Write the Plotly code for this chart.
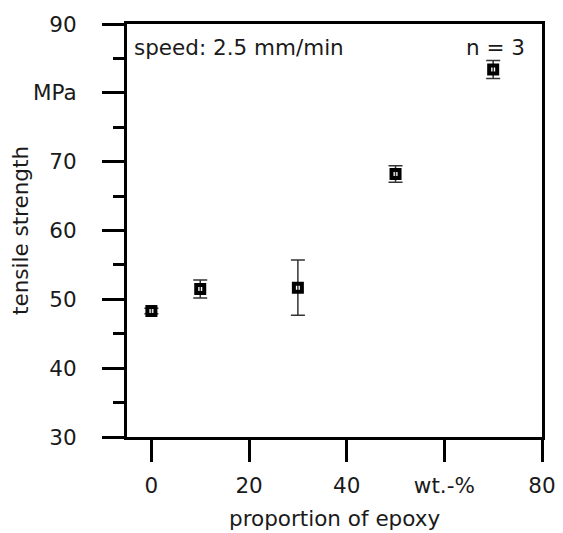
import plotly.graph_objects as go

epoxy = [0, 10, 30, 50, 70]
strength = [48.3, 51.5, 51.7, 68.2, 83.4]
err = [0.4, 1.3, 4.0, 1.2, 1.3]

x_tickvals = [0, 20, 40, 60, 80]
x_ticktext = ["0", "20", "40", "wt.-%", "80"]
y_tickvals = [30, 40, 50, 60, 70, 80, 90]
y_ticktext = ["30", "40", "50", "60", "70", "MPa", "90"]

font = "DejaVu Sans"
fsize = 21.5
tcolor = "#1a1a1a"
fig = go.Figure()
fig.add_trace(go.Scatter(
    x=epoxy, y=strength, mode="markers",
    marker=dict(symbol="square-open", size=8, color="black", line=dict(width=4, color="black")),
    error_y=dict(type="data", array=err, visible=True, color="#333333", thickness=1.5, width=7),
    showlegend=False,
))

axis_common = dict(
    showline=True, linewidth=3, linecolor="black", mirror=True,
    ticks="outside", ticklen=22, tickwidth=3, tickcolor="black",
    showgrid=False, zeroline=False, automargin=False,
    tickfont=dict(family=font, size=fsize, color=tcolor),
)
fig.update_xaxes(
    range=[-5, 80], tickmode="array", tickvals=x_tickvals, ticktext=x_ticktext,
    ticklabelstandoff=5,
    **axis_common,
)
fig.update_yaxes(
    range=[30, 90], tickmode="array", tickvals=y_tickvals, ticktext=y_ticktext,
    title=dict(text="tensile strength", font=dict(family=font, size=fsize, color=tcolor), standoff=10),
    minor=dict(ticks="outside", ticklen=11, tickwidth=3, tickcolor="black", dtick=5, tick0=35, showgrid=False),
    ticklabelstandoff=21,
    **axis_common,
)
fig.add_annotation(x=0.5, y=0, xref="paper", yref="paper", xanchor="center", yanchor="top",
                   yshift=-67, text="proportion of epoxy", showarrow=False,
                   font=dict(family=font, size=fsize, color=tcolor))
fig.add_annotation(x=0, y=1, xref="paper", yref="paper", xanchor="left", yanchor="top",
                   xshift=5, yshift=-9, text="speed: 2.5 mm/min", showarrow=False,
                   font=dict(family=font, size=fsize, color=tcolor))
fig.add_annotation(x=1, y=1, xref="paper", yref="paper", xanchor="right", yanchor="top",
                   xshift=-15, yshift=-9, text="n = 3", showarrow=False,
                   font=dict(family=font, size=fsize, color=tcolor))
fig.update_layout(
    width=555, height=525,
    margin=dict(l=119, r=21, t=16, b=96),
    paper_bgcolor="white", plot_bgcolor="white",
)
fig.write_html("out.html")
